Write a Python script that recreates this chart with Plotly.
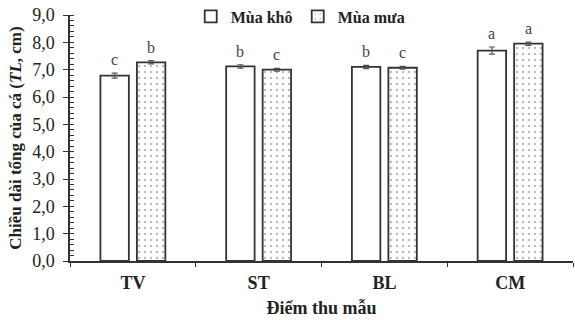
import plotly.graph_objects as go

sites = ["TV", "ST", "BL", "CM"]
dry = [6.78, 7.12, 7.10, 7.70]
dry_err = [0.09, 0.06, 0.06, 0.13]
wet = [7.27, 7.00, 7.07, 7.95]
wet_err = [0.06, 0.05, 0.05, 0.06]
dry_letters = ["c", "b", "b", "a"]
wet_letters = ["b", "c", "c", "a"]
y_ticks = [0, 1, 2, 3, 4, 5, 6, 7, 8, 9]
series_names = ["Mùa khô", "Mùa mưa"]

font_family = "Liberation Serif"
line_col = "#333333"

W, H = 575, 320
ML, MR, MT, MB = 70, 2, 15, 59
BARGAP, BARGROUPGAP = 0.42, 0.22

fig = go.Figure()
fig.add_trace(go.Bar(
    name="<b>" + series_names[0] + "</b>", x=sites, y=dry,
    marker=dict(color="white", line=dict(color=line_col, width=1.8)),
    error_y=dict(type="data", array=dry_err, color="#555", thickness=1.2, width=3),
))
fig.add_trace(go.Bar(
    name="<b>" + series_names[1] + "</b>", x=sites, y=wet,
    marker=dict(color="white", line=dict(color=line_col, width=1.8),
                pattern=dict(shape=".", size=6, solidity=0.14, fgcolor="#777", bgcolor="white")),
    error_y=dict(type="data", array=wet_err, color="#555", thickness=1.2, width=3),
))

# significance letters above the error bars
cat_px = (W - ML - MR) / len(sites)
slot_px = cat_px * (1 - BARGAP) / 2
for vals, errs, letters, sign in [(dry, dry_err, dry_letters, -1), (wet, wet_err, wet_letters, 1)]:
    for s, v, e, l in zip(sites, vals, errs, letters):
        fig.add_annotation(x=s, y=v + e, text=l, showarrow=False,
                           xshift=sign * slot_px / 2, yshift=3, yanchor="bottom",
                           font=dict(family=font_family, size=16, color="#444"))

fig.update_layout(
    width=W, height=H,
    margin=dict(l=ML, r=MR, t=MT, b=MB, autoexpand=False),
    paper_bgcolor="white", plot_bgcolor="white",
    barmode="group", bargap=BARGAP, bargroupgap=BARGROUPGAP,
    separators=",.",
    font=dict(family=font_family, color="#222"),
    showlegend=True,
    legend=dict(orientation="h", x=0.24, y=1.063, xanchor="left", yanchor="top",
                font=dict(family=font_family, size=16, color="#222"),
                itemwidth=30, entrywidth=62, bgcolor="rgba(0,0,0,0)", traceorder="normal"),
    xaxis=dict(
        range=[-0.5, 3.5], showline=True, linecolor=line_col, linewidth=1.5,
        ticks="outside", tickson="boundaries", ticklen=4, tickcolor=line_col,
        tickfont=dict(family=font_family, size=18, color="#222"),
        tickprefix="<b>", ticksuffix="</b>", ticklabelstandoff=5,
        title=dict(text="<b>Điểm thu mẫu</b>", font=dict(family=font_family, size=18, color="#222"), standoff=9),
        showgrid=False,
    ),
    yaxis=dict(
        range=[0, 9], tickvals=y_ticks, tickformat=".1f",
        showline=True, linecolor=line_col, linewidth=1.5,
        ticks="outside", ticklen=5, tickcolor=line_col,
        minor=dict(dtick=0.2, ticks="inside", ticklen=4, tickcolor=line_col, showgrid=False),
        tickfont=dict(family=font_family, size=18, color="#222"),
        tickprefix="<b>", ticksuffix="</b>", ticklabelstandoff=5,
        title=dict(text="<b>Chiều dài tổng của cá (<i>TL</i>, cm)</b>",
                   font=dict(family=font_family, size=17, color="#222"), standoff=6),
        showgrid=False, zeroline=False,
    ),
)

fig.write_html("out.html", config={"displayModeBar": False},
               post_script="document.body.style.margin='0';")
